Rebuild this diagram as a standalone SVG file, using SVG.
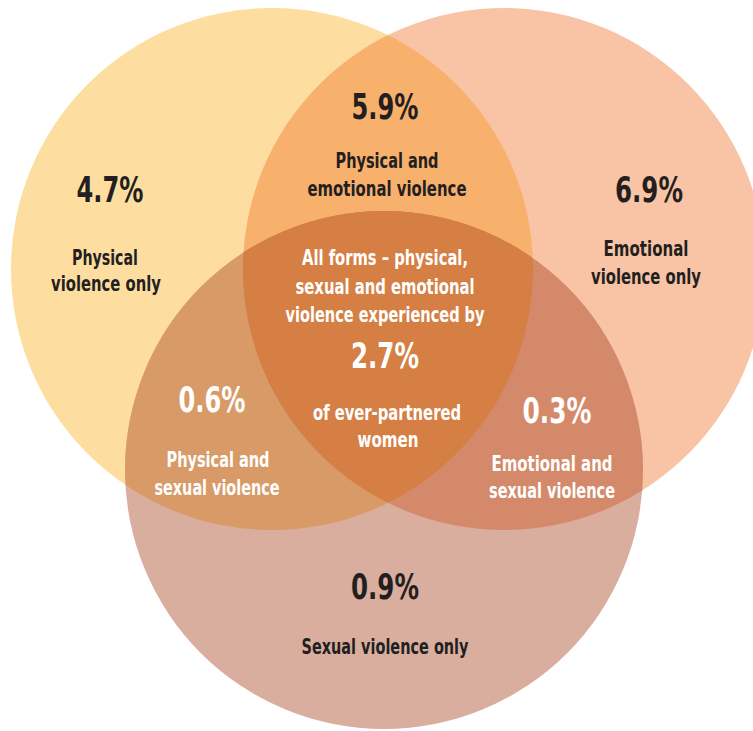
<svg xmlns="http://www.w3.org/2000/svg" width="753" height="731" viewBox="0 0 753 731">
  <style>
    text { font-family: "Liberation Sans Narrow", "DejaVu Sans Condensed", "Liberation Sans", sans-serif; font-weight: bold; text-anchor: middle; }
    .pct { font-size: 35px; }
    .lbl { font-size: 21.5px; }
    .dark { fill: #231F20; }
    .light { fill: #FFFFFF; }
  </style>
  <defs>
    <circle id="cA" cx="272" cy="269" r="261"/>
    <circle id="cB" cx="504" cy="269" r="261"/>
    <circle id="cC" cx="384" cy="470" r="259"/>
    <clipPath id="clipA"><use href="#cA"/></clipPath>
    <clipPath id="clipB"><use href="#cB"/></clipPath>
    <clipPath id="clipC"><use href="#cC"/></clipPath>
  </defs>
  <rect width="753" height="731" fill="#FFFFFF"/>
  <g id="circle-physical"><use href="#cA" fill="#FDDEA0"/></g>
  <g id="circle-emotional"><use href="#cB" fill="#F9C4A5"/></g>
  <g id="circle-sexual"><use href="#cC" fill="#D9AE9E"/></g>
  <g id="overlap-physical-emotional"><use href="#cA" clip-path="url(#clipB)" fill="#F8B06D"/></g>
  <g id="overlap-physical-sexual"><use href="#cA" clip-path="url(#clipC)" fill="#D89B68"/></g>
  <g id="overlap-emotional-sexual"><use href="#cB" clip-path="url(#clipC)" fill="#D48A6A"/></g>
  <g id="overlap-all" clip-path="url(#clipB)"><use href="#cA" clip-path="url(#clipC)" fill="#D57F45"/></g>

  <g id="label-physical-only" class="dark">
    <text class="pct" x="110" y="202" textLength="67" lengthAdjust="spacingAndGlyphs">4.7%</text>
    <text class="lbl" x="105" y="265" textLength="66" lengthAdjust="spacingAndGlyphs">Physical</text>
    <text class="lbl" x="106" y="291" textLength="110" lengthAdjust="spacingAndGlyphs">violence only</text>
  </g>
  <g id="label-physical-emotional" class="dark">
    <text class="pct" x="385" y="119" textLength="67" lengthAdjust="spacingAndGlyphs">5.9%</text>
    <text class="lbl" x="387" y="168" textLength="103" lengthAdjust="spacingAndGlyphs">Physical and</text>
    <text class="lbl" x="387" y="196" textLength="159" lengthAdjust="spacingAndGlyphs">emotional violence</text>
  </g>
  <g id="label-emotional-only" class="dark">
    <text class="pct" x="649" y="202" textLength="68" lengthAdjust="spacingAndGlyphs">6.9%</text>
    <text class="lbl" x="646" y="256" textLength="85" lengthAdjust="spacingAndGlyphs">Emotional</text>
    <text class="lbl" x="646" y="284" textLength="110" lengthAdjust="spacingAndGlyphs">violence only</text>
  </g>
  <g id="label-all" class="light">
    <text class="lbl" x="385" y="265" textLength="166" lengthAdjust="spacingAndGlyphs">All forms – physical,</text>
    <text class="lbl" x="385" y="294" textLength="179" lengthAdjust="spacingAndGlyphs">sexual and emotional</text>
    <text class="lbl" x="385" y="322" textLength="199" lengthAdjust="spacingAndGlyphs">violence experienced by</text>
    <text class="pct" x="385" y="368" textLength="68" lengthAdjust="spacingAndGlyphs">2.7%</text>
    <text class="lbl" x="387" y="420" textLength="148" lengthAdjust="spacingAndGlyphs">of ever-partnered</text>
    <text class="lbl" x="388" y="447" textLength="61" lengthAdjust="spacingAndGlyphs">women</text>
  </g>
  <g id="label-physical-sexual" class="light">
    <text class="pct" x="212" y="412" textLength="67" lengthAdjust="spacingAndGlyphs">0.6%</text>
    <text class="lbl" x="218" y="467" textLength="103" lengthAdjust="spacingAndGlyphs">Physical and</text>
    <text class="lbl" x="217" y="495" textLength="125" lengthAdjust="spacingAndGlyphs">sexual violence</text>
  </g>
  <g id="label-emotional-sexual" class="light">
    <text class="pct" x="557" y="423" textLength="69" lengthAdjust="spacingAndGlyphs">0.3%</text>
    <text class="lbl" x="552" y="471" textLength="121" lengthAdjust="spacingAndGlyphs">Emotional and</text>
    <text class="lbl" x="552" y="498" textLength="126" lengthAdjust="spacingAndGlyphs">sexual violence</text>
  </g>
  <g id="label-sexual-only" class="dark">
    <text class="pct" x="385" y="599" textLength="68" lengthAdjust="spacingAndGlyphs">0.9%</text>
    <text class="lbl" x="385" y="654" textLength="167" lengthAdjust="spacingAndGlyphs">Sexual violence only</text>
  </g>
</svg>
